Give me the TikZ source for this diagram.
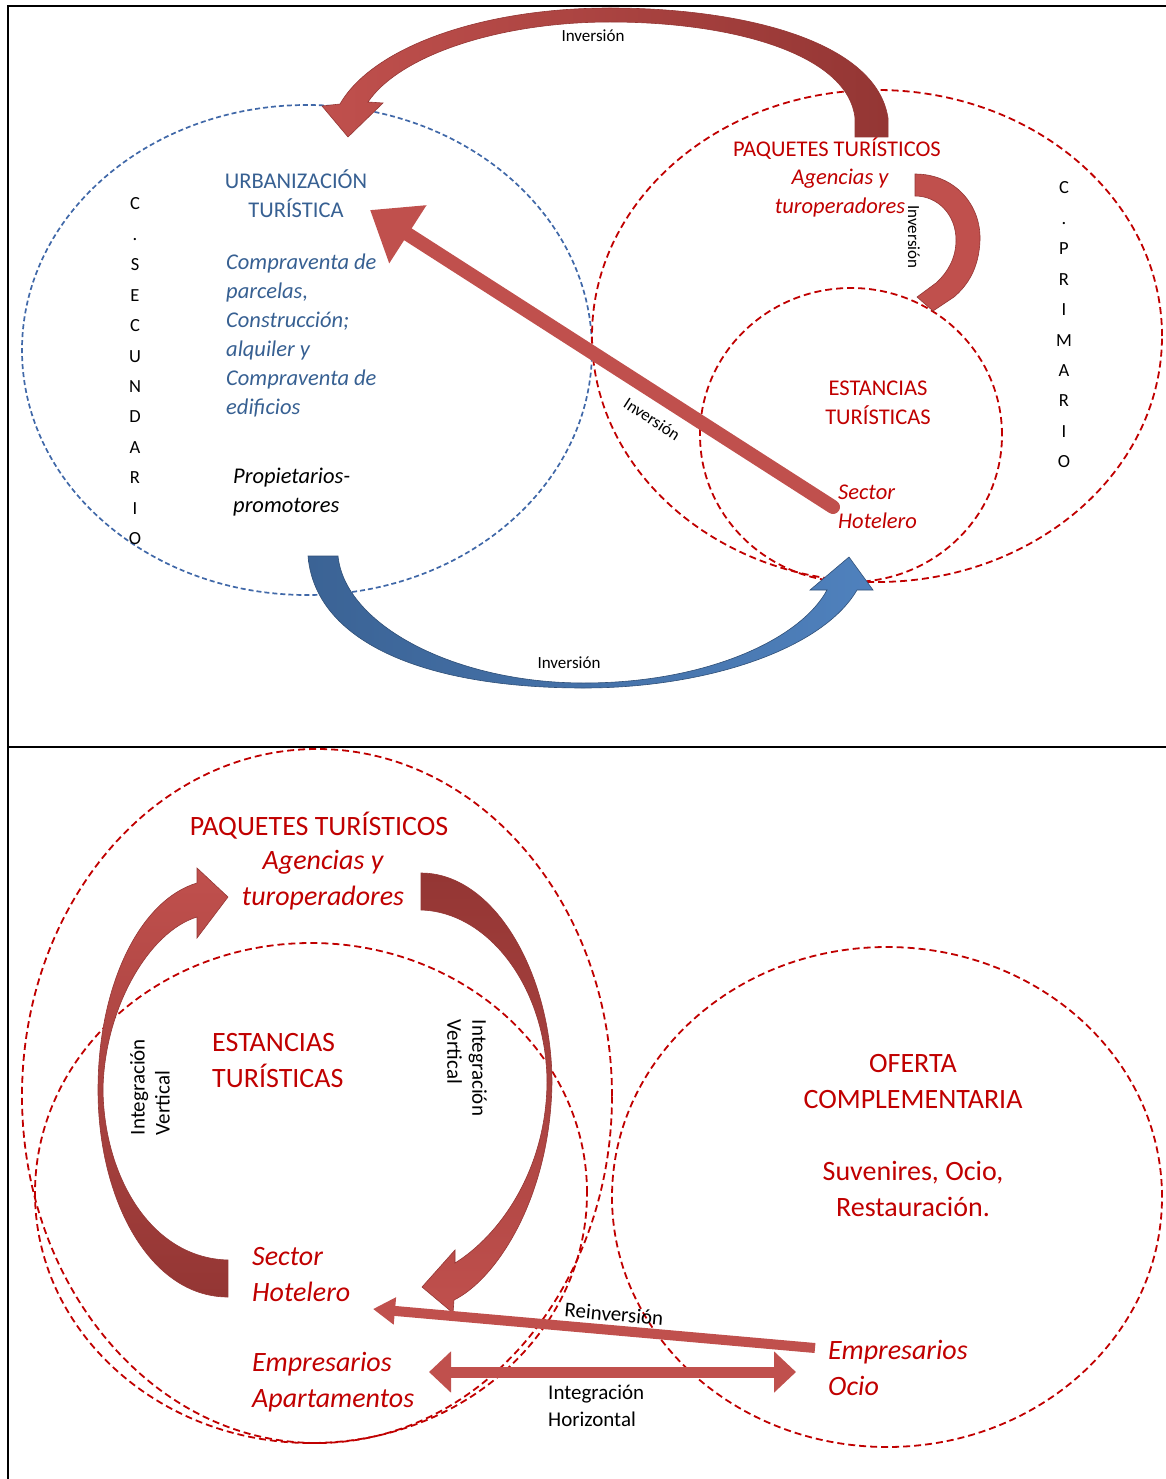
\documentclass[tikz,border=0pt]{standalone}
\usepackage{fontspec}
\setmainfont{Carlito}
\usepackage{tikz}
\usetikzlibrary{arrows.meta, positioning, calc}
\definecolor{dkred}{HTML}{C00000}
\definecolor{arrowred}{HTML}{C0504D}
\definecolor{arrowdark}{HTML}{943634}
\definecolor{urbblue}{HTML}{376092}
\definecolor{dashblue}{HTML}{4068A8}
\definecolor{arrowblue}{HTML}{4F81BD}
\definecolor{bluedark}{HTML}{3B6395}

\begin{document}
\begin{tikzpicture}[x=1pt,y=-1pt,
  reddash/.style={draw=dkred,line width=1.8pt,dash pattern=on 7pt off 4pt},
  bluedash/.style={draw=dashblue,line width=1.7pt,dash pattern=on 5pt off 3pt},
  blockarrow/.style={draw=arrowdark,line width=0.6pt},
  hdS/.style={font=\fontsize{22.5}{29}\selectfont,inner sep=0pt,align=center},
  hdL/.style={font=\fontsize{28}{36}\selectfont,inner sep=0pt,align=center},
  invlbl/.style={font=\fontsize{17}{20}\selectfont,inner sep=0pt},
  intlbl/.style={font=\fontsize{21}{25}\selectfont,inner sep=0pt,align=left},
  vletter/.style={font=\fontsize{18.5}{19}\selectfont,inner sep=0pt,anchor=base},
]
  %% 1 unit = 1 px of the 1166 x 1479 sheet, y grows downwards
  \useasboundingbox (0,0) rectangle (1166,1479);

  % Frame lines
  \draw[line width=2pt] (8,1479) -- (8,6) -- (1166,6);
  \draw[line width=2pt] (8,747) -- (1166,747);

  %% ---------------- Upper panel ----------------
  % Circuits (dashed ellipses)
  \draw[bluedash] (307,350) ellipse [x radius=285pt, y radius=245pt];
  \draw[reddash] (877,336) ellipse [x radius=285pt, y radius=246pt];
  \draw[reddash] (851,435) ellipse [x radius=151pt, y radius=147pt];

  % Big arc: primario -> secundario
  \shadedraw[left color=arrowred, right color=arrowdark, blockarrow]
    (888,137) -- (888,118) .. controls (876,40) and (740,8) .. (610,8)
    .. controls (480,8) and (372,48) .. (340,104) -- (322,106) -- (348,137)
    -- (383,103) -- (368,102) .. controls (400,55) and (500,22) .. (610,22)
    .. controls (735,22) and (848,55) .. (855,118) -- (855,137) -- cycle;

  % Small arc: paquetes -> estancias
  \filldraw[fill=arrowred, blockarrow]
    (915,174) .. controls (955,174) and (981,205) .. (980,240)
    .. controls (979,268) and (968,285) .. (954,297) -- (933,311)
    -- (917,297) -- (936,283) .. controls (948,272) and (956,258) .. (956,240)
    .. controls (956,215) and (938,196) .. (915,196) -- cycle;

  % Blue arc: secundario -> estancias
  \shadedraw[left color=bluedark, right color=arrowblue, draw=bluedark!80!black, line width=0.6pt]
    (308,556) -- (338,556) .. controls (345,625) and (455,683) .. (584,683)
    .. controls (705,683) and (800,640) .. (827,590) -- (810,590) -- (849,557)
    -- (873,590) -- (857,590) .. controls (822,650) and (705,688) .. (584,688)
    .. controls (420,688) and (315,640) .. (308,556) -- cycle;

  % Straight arrow: hotelero -> urbanizacion
  \coordinate (dgS) at (833,507);
  \coordinate (dgE) at (370,210);
  \draw[arrowred, line width=14pt, line cap=round,
        -{Triangle[width=66pt,length=45pt]}] (dgS) -- (dgE);

  % Texts
  \node[hdS, text=urbblue] (urb) at (296,194) {URBANIZACIÓN\\TURÍSTICA};
  \node[hdS, text=urbblue, font=\fontsize{22.5}{29}\selectfont\itshape, align=left, anchor=west]
    (urbact) at (226,336) {Compraventa de\\parcelas,\\Construcción;\\alquiler y\\Compraventa de\\edificios};
  \node[hdS, font=\fontsize{22.5}{29}\selectfont\itshape, align=left, anchor=west]
    (prop) at (233,492) {Propietarios-\\promotores};
  \node[hdS, text=dkred] (paqS) at (837,149) {PAQUETES TURÍSTICOS};
  \node[hdS, text=dkred, font=\fontsize{22.5}{29}\selectfont\itshape] (ageS) at (840,193) {Agencias y\\turoperadores};
  \node[hdS, text=dkred] (estS) at (878,403) {ESTANCIAS\\TURÍSTICAS};
  \node[hdS, text=dkred, font=\fontsize{22.5}{29}\selectfont\itshape, align=left, anchor=west]
    (hotS) at (838,507) {Sector\\Hotelero};

  \node[invlbl] (inv1) at (593,36) {Inversión};
  \node[invlbl, rotate=-90] (inv2) at (914,237) {Inversión};
  \node[invlbl, rotate=-33] (inv3) at (652,419) {Inversión};
  \node[invlbl] (inv4) at (569,663) {Inversión};

  % Vertical circuit names
  \foreach \ch [count=\i from 0] in {C,.,S,E,C,U,N,D,A,R,I,O}
    \node[vletter] (sec\i) at (135,{210+30.4*\i}) {\ch};
  \foreach \ch [count=\i from 0] in {C,.,P,R,I,M,A,R,I,O}
    \node[vletter] (pri\i) at (1064,{194+30.4*\i}) {\ch};

  %% ---------------- Lower panel ----------------
  \draw[reddash] (317,1096) ellipse [x radius=295pt, y radius=347pt];
  \draw[reddash] (311,1193) ellipse [x radius=276pt, y radius=250pt];
  \draw[reddash] (887,1197) ellipse [x radius=275pt, y radius=250pt];

  % Vertical integration, upwards (left)
  \shadedraw[top color=arrowred, bottom color=arrowdark, blockarrow]
    (228,1297) .. controls (150,1297) and (98,1200) .. (98,1090)
    .. controls (98,985) and (140,900) .. (197,883) -- (197,868) -- (228,897)
    -- (197,938) -- (197,917) .. controls (148,932) and (104,1010) .. (103,1090)
    .. controls (104,1175) and (150,1258) .. (228,1260) -- cycle;

  % Vertical integration, downwards (right)
  \shadedraw[top color=arrowdark, bottom color=arrowred, blockarrow]
    (421,873) .. controls (495,873) and (552,975) .. (552,1083)
    .. controls (550,1200) and (495,1280) .. (454,1300) -- (453,1313) -- (422,1287)
    -- (455,1250) -- (455,1263) .. controls (500,1235) and (546,1170) .. (547,1083)
    .. controls (547,990) and (490,912) .. (421,910) -- cycle;

  % Straight arrows
  \coordinate (reS) at (815,1348);
  \coordinate (reE) at (373,1309);
  \draw[arrowred, line width=10pt, -{Triangle[width=26pt,length=22pt]}] (reS) -- (reE);
  \coordinate (hzL) at (429,1372);
  \coordinate (hzR) at (796,1372);
  \draw[arrowred, line width=11pt,
        {Triangle[width=40pt,length=22pt]}-{Triangle[width=40pt,length=22pt]}] (hzL) -- (hzR);

  % Texts
  \node[hdL, text=dkred] (paqL) at (319,826) {PAQUETES TURÍSTICOS};
  \node[hdL, text=dkred, font=\fontsize{28}{36}\selectfont\itshape] (ageL) at (323,880) {Agencias y\\turoperadores};
  \node[hdL, text=dkred, align=left, anchor=west] (estL) at (212,1061) {ESTANCIAS\\TURÍSTICAS};
  \node[hdL, text=dkred, font=\fontsize{28}{36}\selectfont\itshape, align=left, anchor=west]
    (hotL) at (252,1275) {Sector\\Hotelero};
  \node[hdL, text=dkred, font=\fontsize{28}{36}\selectfont\itshape, align=left, anchor=west]
    (apt) at (252,1382) {Empresarios\\Apartamentos};
  \node[hdL, text=dkred] (ofe) at (913,1081) {OFERTA\\COMPLEMENTARIA};
  \node[hdL, text=dkred] (suv) at (913,1189) {Suvenires, Ocio,\\Restauración.};
  \node[hdL, text=dkred, font=\fontsize{28}{36}\selectfont\itshape, align=left, anchor=west]
    (ocio) at (828,1368) {Empresarios\\Ocio};

  \node[intlbl, rotate=90] (ivL) at (150,1087) {Integración\\Vertical};
  \node[intlbl, rotate=-90] (ivR) at (467,1068) {Integración\\Vertical};
  \node[intlbl, rotate=-5] (reinv) at (614,1314) {Reinversión};
  \node[intlbl, font=\fontsize{21}{27.5}\selectfont, anchor=west] (ih) at (548,1406) {Integración\\Horizontal};
\end{tikzpicture}
\end{document}
